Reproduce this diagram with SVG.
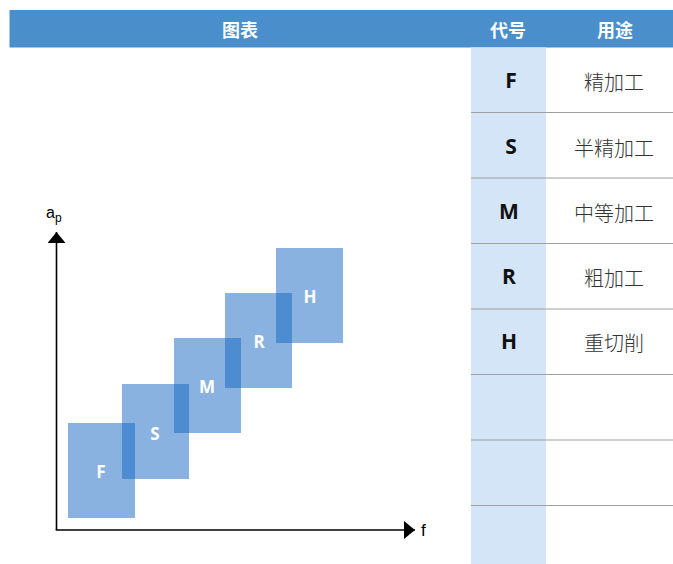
<svg xmlns="http://www.w3.org/2000/svg" width="673" height="564" viewBox="0 0 673 564">
<style>
.hdr{font-family:"Noto Sans CJK SC","Noto Sans",sans-serif;font-size:18px;font-weight:bold;fill:#fff;text-anchor:middle;dominant-baseline:central}
.code{font-family:"Open Sans","Noto Sans",sans-serif;font-size:21px;font-weight:bold;fill:#111;text-anchor:middle;dominant-baseline:central}
.use{font-family:"Noto Sans CJK SC",sans-serif;font-size:20px;font-weight:300;fill:#333;text-anchor:middle;dominant-baseline:central}
.row{stroke:#a0a0a0;stroke-width:1.2}
.blk{fill:#1466C1;fill-opacity:0.5}
.bl{font-family:"Open Sans","Noto Sans",sans-serif;font-size:17px;font-weight:bold;fill:#fff;text-anchor:middle;dominant-baseline:central}
.ax{stroke:#000;stroke-width:1.6;fill:none}
.axl{font-family:"Liberation Sans","Noto Sans",sans-serif;fill:#000}
</style>
<defs>
<marker id="arr" viewBox="0 0 11 18" refX="11" refY="9" markerWidth="11" markerHeight="18" markerUnits="userSpaceOnUse" orient="auto"><path d="M0,0 L11,9 L0,18 Z" fill="#000"/></marker>
</defs>
<rect width="673" height="564" fill="#fff"/>
<g id="table">
<rect x="9.5" y="10" width="663.5" height="37.5" fill="#4A8ECC"/>
<text class="hdr" x="240" y="29">图表</text>
<text class="hdr" x="508" y="29">代号</text>
<text class="hdr" x="615" y="29">用途</text>
<rect x="471" y="47.5" width="75" height="516.5" fill="#D3E5F6"/>
<line class="row" x1="471" y1="112.5" x2="673" y2="112.5"/>
<line class="row" x1="471" y1="178" x2="673" y2="178"/>
<line class="row" x1="471" y1="243.5" x2="673" y2="243.5"/>
<line class="row" x1="471" y1="309" x2="673" y2="309"/>
<line class="row" x1="471" y1="374.5" x2="673" y2="374.5"/>
<line class="row" x1="471" y1="440" x2="673" y2="440"/>
<line class="row" x1="471" y1="505.5" x2="673" y2="505.5"/>
<text class="code" x="511" y="80">F</text><text class="use" x="614" y="81">精加工</text>
<text class="code" x="511" y="146">S</text><text class="use" x="614" y="147">半精加工</text>
<text class="code" x="509" y="211">M</text><text class="use" x="614" y="212">中等加工</text>
<text class="code" x="509" y="276">R</text><text class="use" x="614" y="277">粗加工</text>
<text class="code" x="509" y="341">H</text><text class="use" x="614" y="342">重切削</text>
</g>
<g id="connectors">
<line class="ax" x1="56.5" y1="530" x2="56.5" y2="232" marker-end="url(#arr)"/>
<line class="ax" x1="55.7" y1="530" x2="415" y2="530" marker-end="url(#arr)"/>
</g>
<text class="axl" x="46" y="218" font-size="16">a<tspan font-size="12" dy="4">p</tspan></text>
<text class="axl" x="421" y="536" font-size="17">f</text>
<g id="F"><rect class="blk" x="68" y="423" width="67" height="95"/><text class="bl" x="101" y="471">F</text></g>
<g id="S"><rect class="blk" x="122" y="384" width="67" height="95"/><text class="bl" x="155" y="433">S</text></g>
<g id="M"><rect class="blk" x="174" y="338" width="67" height="95"/><text class="bl" x="207" y="386">M</text></g>
<g id="R"><rect class="blk" x="225" y="293" width="67" height="95"/><text class="bl" x="259" y="341">R</text></g>
<g id="H"><rect class="blk" x="276" y="248" width="67" height="95"/><text class="bl" x="310" y="296">H</text></g>
</svg>
